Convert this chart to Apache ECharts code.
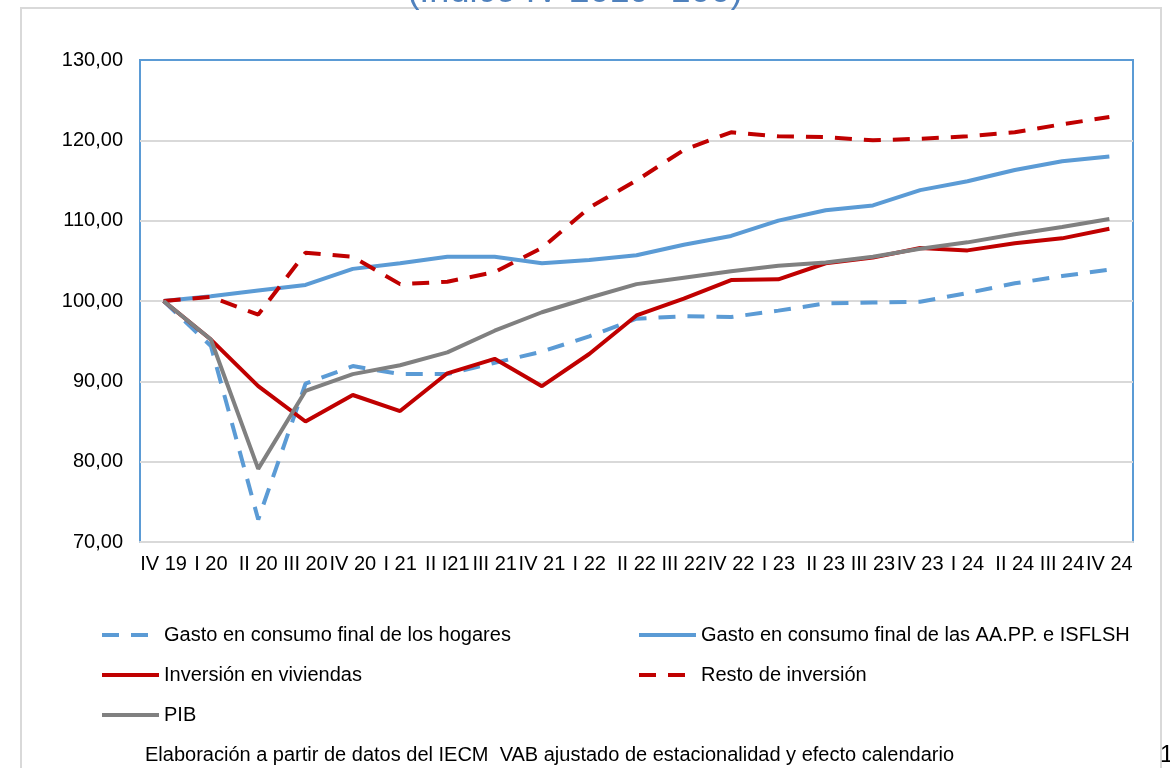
<!DOCTYPE html>
<html>
<head>
<meta charset="utf-8">
<script src="https://cdn.jsdelivr.net/npm/echarts@6/dist/echarts.min.js"></script>
<style>
  html, body { margin: 0; padding: 0; background: #fff; }
  #chart { width: 1170px; height: 768px; }
</style>
</head>
<body>
<div id="chart"></div>
<script>
// trimestres
const quarters = ['IV 19','I 20','II 20','III 20','IV 20','I 21','II I21','III 21','IV 21','I 22','II 22',
  'III 22','IV 22','I 23','II 23','III 23','IV 23','I 24','II 24','III 24','IV 24'];

// indices (IV 2019 = 100)
const hogares = [100, 94.4, 72.8, 89.7, 91.9, 90.9, 90.9, 92.3, 93.7, 95.6, 97.8,
  98.1, 98.0, 98.8, 99.7, 99.8, 99.9, 101.0, 102.2, 103.1, 103.9];
const aapp = [100, 100.6, 101.3, 102.0, 104.0, 104.7, 105.5, 105.5, 104.7, 105.1, 105.7,
  107.0, 108.1, 110.0, 111.3, 111.9, 113.8, 114.9, 116.3, 117.4, 118.0];
const viviendas = [100, 95.2, 89.4, 85.0, 88.3, 86.3, 91.0, 92.8, 89.4, 93.4, 98.2,
  100.3, 102.6, 102.7, 104.7, 105.4, 106.6, 106.3, 107.2, 107.8, 109.0];
const restoInv = [100, 100.5, 98.3, 106.0, 105.5, 102.1, 102.4, 103.6, 106.6, 111.6, 115.0,
  118.8, 121.0, 120.5, 120.4, 120.0, 120.2, 120.5, 121.0, 122.0, 122.9];
const pib = [100, 95.2, 79.1, 88.8, 90.9, 92.0, 93.6, 96.3, 98.6, 100.4, 102.1,
  102.9, 103.7, 104.4, 104.8, 105.5, 106.5, 107.3, 108.3, 109.2, 110.2];

const yTicks = { min: 70, max: 130, step: 10 };

const BLUE = '#5b9bd5', RED = '#c00000', GREY = '#808080';
const FONT = 'Liberation Sans, Arial, sans-serif';
const DASH = [17, 12];

const chart = echarts.init(document.getElementById('chart'));

function mkLine(name, data, color, dashed) {
  return {
    name: name, type: 'line', data: data,
    symbol: 'none', smooth: false,
    lineStyle: { color: color, width: 4, type: dashed ? DASH : 'solid', cap: 'butt' },
    itemStyle: { color: color }
  };
}

const legendText = { fontFamily: FONT, fontSize: 20, color: '#000', lineHeight: 20 };
// legend icon: only the line, hide the marker circle
const legendBase = {
  orient: 'vertical', top: 620, itemWidth: 57, itemHeight: 14, itemGap: 20,
  textStyle: legendText, selectedMode: false,
  itemStyle: { opacity: 0 },
  lineStyle: { width: 4 }
};

chart.setOption({
  animation: false,
  backgroundColor: '#fff',
  graphic: [
    { type: 'rect', z: -10, shape: { x: 21, y: 8, width: 1140, height: 800 },
      style: { fill: 'none', stroke: '#d9d9d9', lineWidth: 2 } },
    { type: 'text', x: 575, y: -8, style: { text: '(Índice IV 2019=100)', fill: '#4f81bd',
      font: '36px ' + FONT, textAlign: 'center', textVerticalAlign: 'middle' } },
    { type: 'text', x: 145, y: 755, style: { text: 'Elaboración a partir de datos del IECM  VAB ajustado de estacionalidad y efecto calendario',
      fill: '#000', font: '20px ' + FONT, textVerticalAlign: 'middle' } },
    { type: 'text', x: 1160, y: 755, style: { text: '1', fill: '#000', font: '24px ' + FONT, textVerticalAlign: 'middle' } }
  ],
  grid: { left: 140, right: 37, top: 60, bottom: 226, show: true,
    borderColor: BLUE, borderWidth: 2, backgroundColor: 'transparent' },
  legend: [
    Object.assign({}, legendBase, { left: 95,
      data: ['Gasto en consumo final de los hogares', 'Inversión en viviendas', 'PIB'] }),
    Object.assign({}, legendBase, { left: 632,
      data: ['Gasto en consumo final de las AA.PP. e ISFLSH', 'Resto de inversión'] })
  ],
  xAxis: {
    type: 'category', data: quarters, boundaryGap: true,
    axisLine: { show: true, lineStyle: { color: '#d9d9d9', width: 2 } },
    axisTick: { show: false },
    axisLabel: { interval: 0, margin: 12, color: '#000', fontFamily: FONT, fontSize: 20 },
    splitLine: { show: false }
  },
  yAxis: {
    type: 'value', min: yTicks.min, max: yTicks.max, interval: yTicks.step,
    axisLine: { show: false }, axisTick: { show: false },
    axisLabel: { margin: 17, color: '#000', fontFamily: FONT, fontSize: 20,
      formatter: v => v.toFixed(2).replace('.', ',') },
    splitLine: { show: true, showMinLine: false, showMaxLine: false,
      lineStyle: { color: '#d9d9d9', width: 2 } }
  },
  series: [
    mkLine('Gasto en consumo final de los hogares', hogares, BLUE, true),
    mkLine('Gasto en consumo final de las AA.PP. e ISFLSH', aapp, BLUE, false),
    mkLine('Inversión en viviendas', viviendas, RED, false),
    mkLine('Resto de inversión', restoInv, RED, true),
    mkLine('PIB', pib, GREY, false)
  ]
});
</script>
</body>
</html>
